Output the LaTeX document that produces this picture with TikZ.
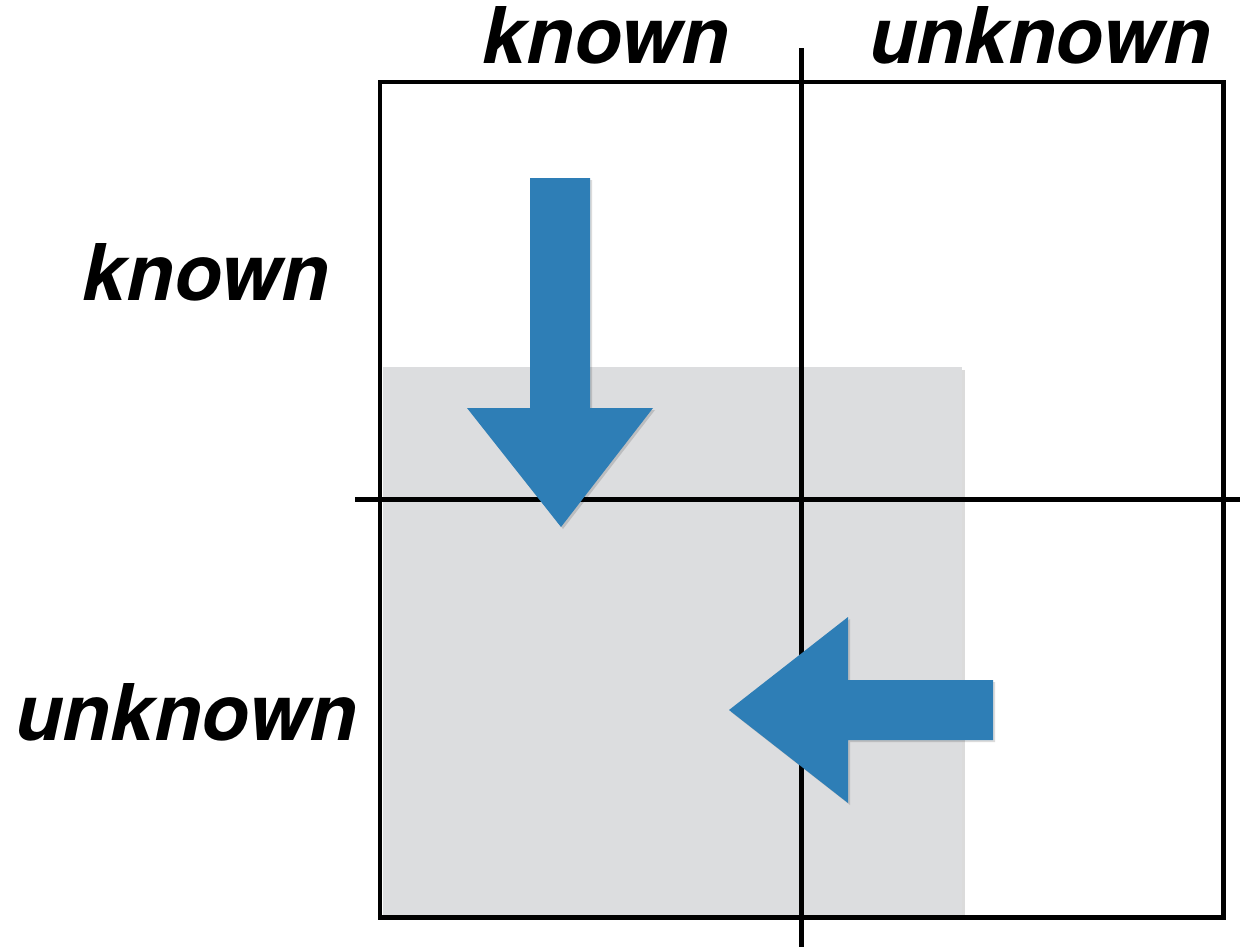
\documentclass[tikz,border=0pt]{standalone}
\usepackage{fontspec}
\setmainfont{TeX Gyre Heros}
\usepackage{xcolor}
\usepackage{tikz}

\definecolor{arrowblue}{RGB}{46,126,182}
\definecolor{shadegrey}{RGB}{220,221,223}

\tikzset{
    axislabel/.style={font=\fontsize{44.5}{52}\selectfont\bfseries\itshape, inner sep=0pt, anchor=base},
    gridline/.style={line width=5pt*0.5669, line cap=butt},
    fatarrow/.style={fill=arrowblue, draw=none},
    softshadow/.style={fill=black, opacity=0.14, draw=none}
}

\begin{document}
\begin{tikzpicture}[x=0.02cm, y=-0.02cm]
        \useasboundingbox (0, 0) rectangle (1240, 947);

        % shaded region
        \fill[softshadow] (385, 370) rectangle (965, 917);
        \fill[shadegrey] (383, 367) rectangle (962, 915);

        % frame and cross
        \draw[gridline, line join=miter] (380, 82) rectangle (1223, 917);
        \draw[gridline] (801, 48) -- (801, 947);
        \draw[gridline] (355, 499) -- (1240, 499);

        % arrow pointing down
        \fill[softshadow] (532, 180) -- (592, 180) -- (592, 410) -- (655, 410)
            -- (563, 529) -- (469, 410) -- (532, 410) -- cycle;
        \fill[fatarrow] (530, 178) -- (590, 178) -- (590, 408) -- (653, 408)
            -- (561, 527) -- (467, 408) -- (530, 408) -- cycle;

        % arrow pointing left
        \fill[softshadow] (995, 682) -- (995, 742) -- (850, 742) -- (850, 805)
            -- (731, 712) -- (850, 619) -- (850, 682) -- cycle;
        \fill[fatarrow] (993, 680) -- (993, 740) -- (848, 740) -- (848, 803)
            -- (729, 710) -- (848, 617) -- (848, 680) -- cycle;

        % labels
        \node[axislabel] (colknown) at (606, 63) {known};
        \node[axislabel] (colunknown) at (1040, 63) {unknown};
        \node[axislabel] (rowknown) at (206, 300) {known};
        \node[axislabel] (rowunknown) at (186, 740) {unknown};
    \end{tikzpicture}
\end{document}
